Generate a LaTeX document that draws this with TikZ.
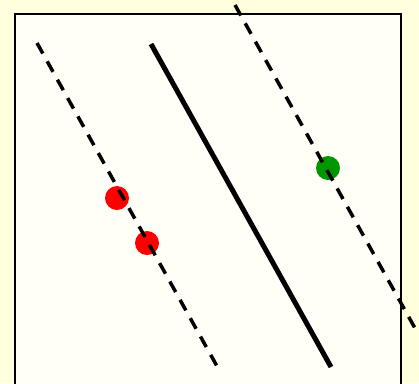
\documentclass[tikz,border=0pt]{standalone}
\usepackage{tikz}
\usetikzlibrary{positioning}

\definecolor{paper}{RGB}{255,255,221}
\definecolor{inner}{RGB}{255,255,248}
\definecolor{dotgreen}{RGB}{0,150,0}

\begin{document}
\begin{tikzpicture}[
    x=1pt, y=-1pt,
    margin/.style={line width=3.5pt, dash pattern=on 12pt off 9pt},
    dot/.style={circle, inner sep=0pt, minimum size=24pt}
]

\fill[paper] (0,0) rectangle (419,383);
\useasboundingbox (0,0) rectangle (419,383);

\draw[line width=2.5pt, fill=inner] (15,14) rectangle (401,400);

\node[dot, fill=red] (neg1) at (117,198) {};
\node[dot, fill=red] (neg2) at (147,243) {};
\node[dot, fill=dotgreen] (pos1) at (328,168) {};

\coordinate (lowtop) at (37,43);
\coordinate (lowbot) at (218,368);
\coordinate (midtop) at (151,44);
\coordinate (midbot) at (331,367);
\coordinate (uptop) at (235,5);
\coordinate (upbot) at (416,330);

\draw[margin] (lowtop) -- (lowbot);
\draw[line width=5pt] (midtop) -- (midbot);
\draw[margin] (uptop) -- (upbot);

\end{tikzpicture}
\end{document}
